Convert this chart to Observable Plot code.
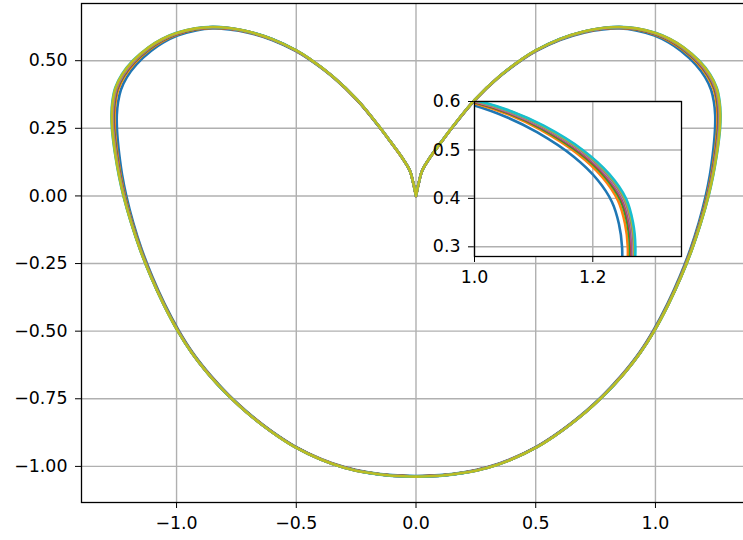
<!DOCTYPE html>
<html><head><meta charset="utf-8">
<script src="https://cdn.jsdelivr.net/npm/d3@7"></script>
<script src="https://cdn.jsdelivr.net/npm/@observablehq/plot@0.6"></script>
<style>
html,body{margin:0;padding:0;background:#fff;overflow:hidden;width:743px;height:540px;}
#wrap{position:relative;width:743px;height:540px;overflow:hidden;}
#main{position:absolute;left:0;top:0;}
#inset{position:absolute;left:424px;top:91px;}
</style></head><body><div id="wrap"><div id="main"></div><div id="inset"></div></div>
<script>
// Outer curve (cyan), going round the loop from the cusp
const curveX = [0, 0.012, 0.026, 0.06, 0.105, 0.155, 0.245, 0.345, 0.444, 0.5, 0.6, 0.7, 0.78, 0.85, 0.92, 1.0, 1.062, 1.117, 1.183, 1.228, 1.256, 1.268, 1.272, 1.27, 1.264, 1.256, 1.241, 1.222, 1.19, 1.152, 1.107, 1.055, 0.995, 0.937, 0.876, 0.826, 0.77, 0.708, 0.638, 0.575, 0.507, 0.4, 0.3, 0.2, 0.1, 0,
  -0.1, -0.2, -0.3, -0.4, -0.507, -0.575, -0.638, -0.708, -0.77, -0.826, -0.876, -0.937, -0.995, -1.055, -1.107, -1.152, -1.19, -1.222, -1.241, -1.256, -1.264, -1.27, -1.272, -1.268, -1.256, -1.228, -1.183, -1.117, -1.062, -1.0, -0.92, -0.85, -0.78, -0.7, -0.6, -0.5, -0.444, -0.345, -0.245, -0.155, -0.105, -0.06, -0.026, -0.012, 0];
const curveY = [0, 0.05, 0.094, 0.144, 0.199, 0.258, 0.355, 0.44, 0.507, 0.538, 0.58, 0.608, 0.621, 0.625, 0.62, 0.603, 0.58, 0.55, 0.5, 0.45, 0.4, 0.35, 0.3, 0.25, 0.2, 0.15, 0.075, 0, -0.1, -0.2, -0.3, -0.4, -0.5, -0.58, -0.65, -0.7, -0.75, -0.8, -0.85, -0.89, -0.928, -0.974, -1.005, -1.024, -1.035, -1.038,
  -1.035, -1.024, -1.005, -0.974, -0.928, -0.89, -0.85, -0.8, -0.75, -0.7, -0.65, -0.58, -0.5, -0.4, -0.3, -0.2, -0.1, 0, 0.075, 0.15, 0.2, 0.25, 0.3, 0.35, 0.4, 0.45, 0.5, 0.55, 0.58, 0.603, 0.62, 0.625, 0.621, 0.608, 0.58, 0.538, 0.507, 0.44, 0.355, 0.258, 0.199, 0.144, 0.094, 0.05, 0];
// how far the innermost (blue) curve lies inside the outer one at each point
const curveSpread = [0, 0, 0, 0, 0.0005, 0.001, 0.0015, 0.002, 0.003, 0.003, 0.004, 0.005, 0.006, 0.007, 0.009, 0.012, 0.016, 0.019, 0.022, 0.024, 0.025, 0.024, 0.0225, 0.021, 0.019, 0.017, 0.014, 0.012, 0.009, 0.007, 0.006, 0.005, 0.005, 0.004, 0.004, 0.004, 0.003, 0.003, 0.003, 0.003, 0.003, 0.003, 0.003, 0.003, 0.003, 0.003,
  0.003, 0.003, 0.003, 0.003, 0.003, 0.003, 0.003, 0.003, 0.003, 0.004, 0.004, 0.004, 0.005, 0.005, 0.006, 0.007, 0.009, 0.012, 0.014, 0.017, 0.019, 0.021, 0.0225, 0.024, 0.025, 0.024, 0.022, 0.019, 0.016, 0.012, 0.009, 0.007, 0.006, 0.005, 0.004, 0.003, 0.003, 0.002, 0.0015, 0.001, 0.0005, 0, 0, 0, 0];
// series and the share of that spread each one has
const seriesNames = ["C0", "C1", "C2", "C3", "C4", "C5", "C6", "C7", "C8", "C9"];
const seriesShare = [1.0, 0.57, 0.4, 0.3, 0.25, 0.2, 0.16, 0.12, 0.06, 0.0];
const xTicks = [-1.0, -0.5, 0.0, 0.5, 1.0];
const yTicks = [-1.0, -0.75, -0.5, -0.25, 0.0, 0.25, 0.5];
const insetXTicks = [1.0, 1.2];
const insetYTicks = [0.3, 0.4, 0.5, 0.6];

const palette = ["#1f77b4", "#ff7f0e", "#2ca02c", "#d62728", "#9467bd", "#8c564b", "#e377c2", "#7f7f7f", "#bcbd22", "#17becf"];
const mainOrder = [0, 1, 2, 3, 4, 5, 6, 7, 9, 8];
const insetOrder = [0, 1, 2, 3, 4, 5, 6, 7, 8, 9];
const KX = 239.4, KY = 270.5; // px per unit, for an isotropic inward normal

const n = curveX.length;
const normals = curveX.map((_, j) => {
  const a = Math.max(0, j - 1), b = Math.min(n - 1, j + 1);
  const dx = (curveX[b] - curveX[a]) * KX, dy = (curveY[b] - curveY[a]) * KY;
  const len = Math.hypot(dx, dy) || 1;
  return [dy / len, -dx / len]; // right-hand normal = inward (clockwise loop)
});

function rows(order) {
  const out = [];
  for (const i of order) {
    for (let j = 0; j < n; j++) {
      const off = curveSpread[j] * seriesShare[i] * KX;
      out.push({series: seriesNames[i], j,
        x: curveX[j] + normals[j][0] * off / KX,
        y: curveY[j] + normals[j][1] * off / KY});
    }
  }
  return out;
}

const font = {fontFamily: "DejaVu Sans", fontSize: "17.4px", color: "black", background: "transparent", overflow: "visible", maxWidth: "none"};
const color = {domain: seriesNames, range: palette, type: "ordinal"};

const main = Plot.plot({
  width: 750, height: 540,
  marginLeft: 81, marginRight: 0, marginTop: 3, marginBottom: 38,
  style: font,
  color,
  x: {domain: [-1.397, 1.397], ticks: xTicks, tickFormat: ".1f", tickSize: 6, tickPadding: 8.5, label: null},
  y: {domain: [-1.1335, 0.7115], ticks: yTicks, tickFormat: ".2f", tickSize: 6, tickPadding: 8, label: null},
  marks: [
    Plot.ruleX(xTicks, {stroke: "#b0b0b0", strokeWidth: 1.4}),
    Plot.ruleY(yTicks, {stroke: "#b0b0b0", strokeWidth: 1.4}),
    Plot.line(rows(mainOrder), {x: "x", y: "y", z: "series", stroke: "series", curve: "catmull-rom", strokeWidth: 2.6}),
    Plot.frame({stroke: "black", strokeWidth: 1.3})
  ]
});
document.getElementById("main").appendChild(main);

const inset = Plot.plot({
  width: 267, height: 205,
  marginLeft: 50, marginRight: 10, marginTop: 10, marginBottom: 40,
  style: font,
  color,
  x: {domain: [1.0, 1.35], ticks: insetXTicks, tickFormat: ".1f", tickSize: 6, tickPadding: 8.5, label: null},
  y: {domain: [0.28, 0.6], ticks: insetYTicks, tickFormat: ".1f", tickSize: 6, tickPadding: 8, label: null},
  marks: [
    Plot.frame({fill: "white"}),
    Plot.ruleX(insetXTicks, {stroke: "#b0b0b0", strokeWidth: 1.4}),
    Plot.ruleY(insetYTicks, {stroke: "#b0b0b0", strokeWidth: 1.4}),
    Plot.line(rows(insetOrder), {x: "x", y: "y", z: "series", stroke: "series", curve: "catmull-rom", strokeWidth: 2.6, clip: true}),
    Plot.frame({stroke: "black", strokeWidth: 1.3})
  ]
});
document.getElementById("inset").appendChild(inset);
</script></body></html>
